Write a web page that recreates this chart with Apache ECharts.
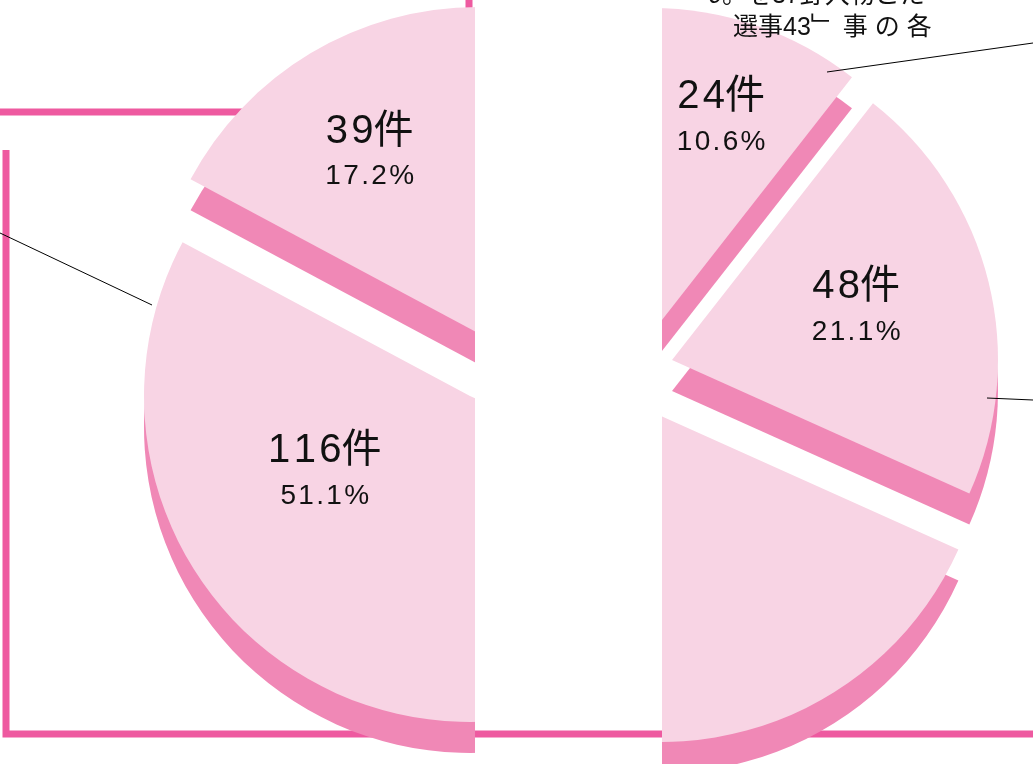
<!DOCTYPE html>
<html>
<head>
<meta charset="utf-8">
<script src="https://cdn.jsdelivr.net/npm/echarts@6/dist/echarts.min.js"></script>
<style>
html, body { margin: 0; padding: 0; background: #fff; }
#bg { position: absolute; left: 0; top: 0; width: 1033px; height: 764px; }
.clip { position: absolute; top: 0; height: 764px; overflow: hidden; }
#clipL { left: 0; width: 475px; }
#clipR { left: 662px; width: 371px; }
.pie { position: absolute; top: 0; width: 1033px; height: 764px; }
#pieL { left: 0; }
#pieR { left: -662px; }
</style>
</head>
<body>
<div id="bg"></div>
<div class="clip" id="clipL"><div class="pie" id="pieL"></div></div>
<div class="clip" id="clipR"><div class="pie" id="pieR"></div></div>
<script>
// 件数 (時計回り、12時から)
var counts = [24, 48, 116, 39];
var unit = '件';
var topLines = ['9。を37野入物こた', '選事43﹂ 事 の 各'];

var faceColor = '#F8D4E4';
var sideColor = '#F088B6';
var frameColor = '#EE5AA0';
var font = "'Liberation Sans', Arial, 'Noto Sans CJK JP', sans-serif";

var R = 326;      // 半径
var depth = 31;   // 厚み

// 文字間を少し空ける
function spaced(s) {
	return String(s).split('').join('\u200A');
}

// 1切れ分 (側面 + 上面)  shift: ラベルのずらし量, null ならラベルなし
function sliceSeries(idx, center, shift) {
	var data = counts.map(function (v, i) {
		var on = i === idx;
		return {
			value: v,
			itemStyle: on ? {} : { color: 'transparent' },
			label: { show: on && !!shift }
		};
	});
	var base = {
		type: 'pie',
		silent: true,
		radius: [0, R],
		startAngle: 90,
		clockwise: true,
		percentPrecision: 1,
		avoidLabelOverlap: false,
		labelLine: { show: false },
		emphasis: { disabled: true }
	};
	var side = echarts.util.merge({
		center: [center[0], center[1] + depth],
		data: counts.map(function (v, i) {
			return { value: v, itemStyle: i === idx ? {} : { color: 'transparent' } };
		}),
		label: { show: false },
		itemStyle: { color: sideColor },
		z: 1
	}, base);
	var face = echarts.util.merge({
		center: center,
		data: data,
		itemStyle: { color: faceColor },
		label: {
			position: 'inside',
			color: '#111',
			fontFamily: font,
			formatter: function (p) {
				return '{n|' + spaced(p.value) + unit + '}\n{p|' + spaced(p.percent + '%') + '}';
			},
			rich: {
				n: { fontSize: 40, lineHeight: 50, fontFamily: font, color: '#111' },
				p: { fontSize: 28, lineHeight: 40, fontFamily: font, color: '#111' }
			}
		},
		labelLayout: function () {
			return shift ? { dx: shift[0], dy: shift[1] } : {};
		},
		z: 2
	}, base);
	return [side, face];
}

function leader(x1, y1, x2, y2) {
	return {
		type: 'line', z: 100,
		shape: { x1: x1, y1: y1, x2: x2, y2: y2 },
		style: { stroke: '#000', lineWidth: 1 }
	};
}

var bg = echarts.init(document.getElementById('bg'));
bg.setOption({
	animation: false,
	graphic: [
		{ type: 'polyline', shape: { points: [[0, 112], [469, 112], [469, 0]] },
			style: { stroke: frameColor, lineWidth: 7, fill: null } },
		{ type: 'polyline', shape: { points: [[6, 150], [6, 734], [1033, 734]] },
			style: { stroke: frameColor, lineWidth: 7, fill: null } }
	]
});

// 左半分: 116件(左側) と 39件
var left = echarts.init(document.getElementById('pieL'));
left.setOption({
	animation: false,
	graphic: [leader(0, 233, 152, 305)],
	series: [].concat(
		sliceSeries(2, [470, 396], [-72, -74]),
		sliceSeries(3, [478, 333], [-23, -39])
	)
});

// 右半分: 24件、48件、116件(右側)
var right = echarts.init(document.getElementById('pieR'));
right.setOption({
	animation: false,
	graphic: [
		leader(827, 72, 1033, 43),
		leader(987, 398, 1033, 400),
		{ type: 'text', z: 100, style: { text: topLines[0], x: 708, y: -4, font: '25px ' + font,
			fill: '#111', textVerticalAlign: 'middle' } },
		{ type: 'text', z: 100, style: { text: topLines[1], x: 733, y: 28, font: '25px ' + font,
			fill: '#111', textVerticalAlign: 'middle' } }
	],
	series: [].concat(
		sliceSeries(0, [651, 334], [16, -60]),
		sliceSeries(1, [672, 360], [23, -13]),
		sliceSeries(2, [661, 416], null)
	)
});
</script>
</body>
</html>
